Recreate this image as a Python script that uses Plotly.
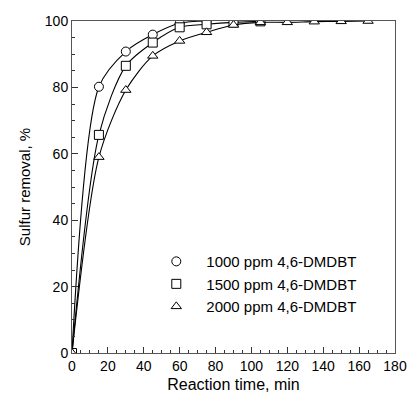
import plotly.graph_objects as go

t1000 = [0, 15, 30, 45, 60, 75]
s1000 = [0, 80.2, 90.8, 95.9, 99.3, 100]
t1500 = [0, 15, 30, 45, 60, 75, 90, 105]
s1500 = [0, 65.7, 86.5, 93.5, 98.1, 99.0, 99.6, 99.9]
t2000 = [0, 15, 30, 45, 60, 75, 90, 105, 120, 135, 150, 165]
s2000 = [0, 59.0, 79.2, 89.5, 94.0, 96.6, 98.8, 99.6, 99.6, 99.8, 99.9, 100]

series = [
    ("1000 ppm 4,6-DMDBT", t1000, s1000, "circle"),
    ("1500 ppm 4,6-DMDBT", t1500, s1500, "square"),
    ("2000 ppm 4,6-DMDBT", t2000, s2000, "triangle-up"),
]

FONT = "Liberation Sans, Arial"
fig = go.Figure()
for name, x, y, sym in series:
    fig.add_trace(go.Scatter(
        x=x, y=y, name=name, mode="lines+markers", showlegend=False,
        line=dict(color="black", width=1.1, shape="spline", smoothing=0.8),
        marker=dict(symbol=sym, size=9, color="white", line=dict(color="black", width=1)),
    ))
for name, x, y, sym in series:
    fig.add_trace(go.Scatter(
        x=[None], y=[None], name=name, mode="markers",
        marker=dict(symbol=sym, size=9, color="white", line=dict(color="black", width=1)),
    ))

axis_common = dict(
    showline=True, linecolor="#555", linewidth=1, mirror=True,
    ticks="inside", ticklen=6, tickcolor="#333", showgrid=False, zeroline=False,
    tickfont=dict(family=FONT, size=14, color="black"),
)
fig.update_xaxes(range=[0, 180], dtick=20, tick0=0,
                 minor=dict(dtick=5, ticks="inside", ticklen=3, tickcolor="#333"),
                 title=dict(text="Reaction time, min", font=dict(family=FONT, size=16, color="black"), standoff=6),
                 **axis_common)
fig.update_yaxes(range=[0, 100], dtick=20, tick0=0,
                 minor=dict(dtick=5, ticks="inside", ticklen=3, tickcolor="#333"),
                 title=dict(text="Sulfur removal, %", font=dict(family=FONT, size=15, color="black"), standoff=10),
                 **axis_common)
fig.update_layout(
    width=419, height=405,
    margin=dict(l=72, r=16, t=21, b=52),
    plot_bgcolor="white", paper_bgcolor="white",
    legend=dict(x=0.230, y=0.325, xanchor="left", yanchor="top",
                bgcolor="rgba(0,0,0,0)", tracegroupgap=0,
                font=dict(family=FONT, size=15, color="black"),
                itemwidth=50),
)
fig.write_html("out.html", config={"displayModeBar": False},
               post_script="document.body.style.margin='0';document.body.style.overflow='hidden';")
